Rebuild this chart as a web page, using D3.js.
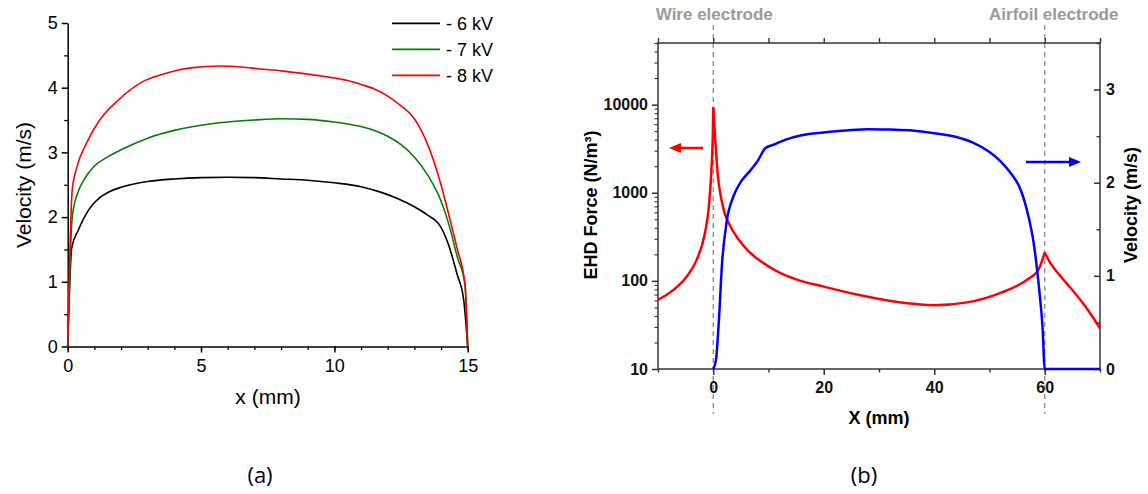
<!DOCTYPE html>
<html><head><meta charset="utf-8">
<script src="https://cdn.jsdelivr.net/npm/d3@7"></script>
<style>body{margin:0;background:#fff}svg{display:block}</style>
</head><body>
<svg id="c" width="1148" height="494"></svg>
<script>
// ---------- Panel (a) data ----------
const xTicksA = [0, 5, 10, 15];
const yTicksA = [0, 1, 2, 3, 4, 5];
const legendLabelsA = ["- 6 kV", "- 7 kV", "- 8 kV"];
const x6kV = [0, 0.15, 0.4, 0.8, 1.2, 1.6, 2, 3, 4, 5, 6, 7, 8, 9, 10, 11, 11.7, 12.3, 13, 13.5, 14, 14.3, 14.6, 14.85, 15];
const v6kV = [0, 1.52, 1.8, 2.12, 2.3, 2.4, 2.46, 2.55, 2.59, 2.61, 2.615, 2.61, 2.59, 2.57, 2.53, 2.47, 2.39, 2.3, 2.16, 2.03, 1.84, 1.55, 1.12, 0.72, 0];
const x7kV = [0, 0.17, 0.4, 0.6, 1, 1.5, 2, 3, 4, 5, 6, 7, 8, 9, 10, 10.5, 11, 11.5, 12, 12.5, 13, 13.5, 14, 14.3, 14.6, 14.9, 15];
const v7kV = [0, 2.0, 2.4, 2.57, 2.79, 2.93, 3.04, 3.22, 3.34, 3.42, 3.47, 3.50, 3.52, 3.51, 3.47, 3.44, 3.40, 3.34, 3.25, 3.12, 2.93, 2.65, 2.25, 1.88, 1.4, 0.95, 0];
const x8kV = [0, 0.17, 0.35, 0.7, 1.2, 1.9, 2.8, 3.5, 4.1, 4.7, 5.7, 6.5, 7.2, 8, 9, 10, 10.5, 11, 11.5, 12, 12.5, 13, 13.5, 14, 14.3, 14.6, 14.9, 15];
const v8kV = [0, 2.42, 2.78, 3.14, 3.5, 3.81, 4.09, 4.2, 4.27, 4.31, 4.335, 4.32, 4.29, 4.26, 4.21, 4.15, 4.11, 4.05, 3.98, 3.87, 3.72, 3.52, 3.12, 2.5, 2.02, 1.52, 0.95, 0];

// ---------- Panel (b) data ----------
const xTicksB = [0, 20, 40, 60];
const xMinorB = [-10, 10, 30, 50, 70];
const forceTicks = [10, 100, 1000, 10000];
const velTicks = [0, 1, 2, 3];
const velMinor = [0.5, 1.5, 2.5, 3.5];
const xForce = [-10, -7.2, -4.8, -3, -1.5, -0.85, -0.36, -0.06, 0, 0.36, 0.78, 1.6, 3.1, 4.5, 6.1, 8, 10, 12, 15, 20, 26, 33, 40, 46, 52, 56.8, 58.9, 60, 61, 62.5, 64, 66, 68, 70];
const force = [61, 79, 112, 173, 350, 645, 1690, 5260, 9300, 4050, 1690, 770, 416, 300, 226, 178, 146, 124, 104, 86, 70, 58, 53, 57, 73, 103, 135, 210, 160, 120, 93, 66, 45, 29];
const xVel = [0, 0.5, 1, 1.6, 2.4, 3.7, 4.9, 6.7, 8, 9.4, 11, 13, 16, 20, 24, 28, 32, 36, 40, 44, 47, 50, 52, 54, 55.6, 57, 58, 59, 59.6, 60, 65, 70];
const vel = [0, 0.1, 0.5, 1.14, 1.57, 1.86, 2.0, 2.13, 2.23, 2.37, 2.41, 2.46, 2.51, 2.54, 2.56, 2.575, 2.57, 2.56, 2.53, 2.49, 2.43, 2.33, 2.23, 2.09, 1.93, 1.65, 1.35, 0.85, 0.45, 0, 0, 0];
const electrodeLabels = ["Wire electrode", "Airfoil electrode"];
const electrodeX = [0, 60];

const svg = d3.select("#c");
svg.append("rect").attr("width", 1148).attr("height", 494).attr("fill", "#fff");
const intFmt = d3.format("d");

// ================= Panel (a) =================
const fA = "'Liberation Sans', Arial, sans-serif";
const xa = d3.scaleLinear().domain([0, 15]).range([67.7, 467.7]);
const ya = d3.scaleLinear().domain([0, 5]).range([346.5, 23]);
const gA = svg.append("g");

function styleAxis(g, col, w) {
  g.selectAll("path.domain").attr("stroke", col).attr("stroke-width", w);
  g.selectAll(".tick line").attr("stroke", col).attr("stroke-width", w);
}
gA.append("g").attr("transform", "translate(0,346.5)")
  .call(d3.axisBottom(xa).tickValues(d3.range(0, 16, 1)).tickSize(3.5).tickFormat("").tickSizeOuter(0))
  .call(g => { g.select(".domain").remove(); styleAxis(g, "#000", 1.3); });
gA.append("g").attr("transform", "translate(67.7,0)")
  .call(d3.axisLeft(ya).tickValues(d3.range(0.5, 5, 1)).tickSize(3.5).tickFormat("").tickSizeOuter(0))
  .call(g => { g.select(".domain").remove(); styleAxis(g, "#000", 1.3); });
const axA_x = gA.append("g").attr("transform", "translate(0,346.5)")
  .call(d3.axisBottom(xa).tickValues(xTicksA).tickSize(6).tickPadding(7).tickSizeOuter(0).tickFormat(intFmt));
styleAxis(axA_x, "#000", 1.5);
axA_x.selectAll("text").attr("font-family", fA).attr("font-size", 18).attr("fill", "#000");
const axA_y = gA.append("g").attr("transform", "translate(67.7,0)")
  .call(d3.axisLeft(ya).tickValues(yTicksA).tickSize(6).tickPadding(4).tickSizeOuter(0).tickFormat(intFmt));
styleAxis(axA_y, "#000", 1.5);
axA_y.selectAll("text").attr("font-family", fA).attr("font-size", 18).attr("fill", "#000");

const seriesA = [
  { x: x6kV, v: v6kV, color: "#000000" },
  { x: x7kV, v: v7kV, color: "#008000" },
  { x: x8kV, v: v8kV, color: "#ff0000" }
];
const lineA = d3.line().x(d => xa(d[0])).y(d => ya(d[1])).curve(d3.curveMonotoneX);
seriesA.forEach(s => {
  gA.append("path").datum(s.x.map((x, i) => [x, s.v[i]]))
    .attr("d", lineA).attr("fill", "none").attr("stroke", s.color).attr("stroke-width", 1.6);
});
legendLabelsA.forEach((lab, i) => {
  const y = 23.3 + i * 26;
  gA.append("line").attr("x1", 392).attr("x2", 440).attr("y1", y).attr("y2", y)
    .attr("stroke", seriesA[i].color).attr("stroke-width", 1.8);
  gA.append("text").attr("x", 446).attr("y", y + 7).text(lab)
    .attr("font-family", fA).attr("font-size", 18).attr("fill", "#000");
});
gA.append("text").attr("x", 268).attr("y", 404).attr("text-anchor", "middle")
  .attr("font-family", fA).attr("font-size", 21).text("x (mm)");
gA.append("text").attr("transform", "translate(31,185) rotate(-90)").attr("text-anchor", "middle")
  .attr("font-family", fA).attr("font-size", 21).text("Velocity (m/s)");
gA.append("text").attr("x", 260).attr("y", 483).attr("text-anchor", "middle")
  .attr("font-family", "'Open Sans', sans-serif").attr("font-size", 22).text("(a)");

// ================= Panel (b) =================
const fB = "'Liberation Sans', Arial, sans-serif";
const L = 658, R = 1100, T = 43, B = 369;
const xb = d3.scaleLinear().domain([-10, 70]).range([L, R]);
const yF = d3.scaleLog().domain([10, 50000]).range([B, T]);
const yV = d3.scaleLinear().domain([0, 3.5]).range([B, T]);
const gB = svg.append("g");
const axCol = "#333";

electrodeX.forEach(ex => {
  gB.append("line").attr("x1", xb(ex)).attr("x2", xb(ex)).attr("y1", 25).attr("y2", 414)
    .attr("stroke", "#8a8a8a").attr("stroke-width", 1.3).attr("stroke-dasharray", "5,4");
});
gB.append("text").attr("x", xb(electrodeX[0]) + 1).attr("y", 20).attr("text-anchor", "middle")
  .attr("font-family", fB).attr("font-weight", "bold").attr("font-size", 17).attr("fill", "#9a9a9a")
  .text(electrodeLabels[0]);
gB.append("text").attr("x", xb(electrodeX[1]) + 9).attr("y", 20).attr("text-anchor", "middle")
  .attr("font-family", fB).attr("font-weight", "bold").attr("font-size", 17).attr("fill", "#9a9a9a")
  .text(electrodeLabels[1]);

gB.append("rect").attr("x", L).attr("y", T).attr("width", R - L).attr("height", B - T)
  .attr("fill", "none").attr("stroke", axCol).attr("stroke-width", 1.5);

function tickOnly(g, w) { g.select(".domain").remove(); g.selectAll(".tick line").attr("stroke", axCol).attr("stroke-width", w); }

gB.append("g").attr("transform", `translate(0,${B})`)
  .call(d3.axisBottom(xb).tickValues(xMinorB).tickSize(3.5).tickFormat(""))
  .call(g => tickOnly(g, 1.4));
const axB_x = gB.append("g").attr("transform", `translate(0,${B})`)
  .call(d3.axisBottom(xb).tickValues(xTicksB).tickSize(6).tickPadding(7).tickFormat(intFmt))
  .call(g => tickOnly(g, 1.5));
axB_x.selectAll("text").attr("font-family", fB).attr("font-weight", "bold").attr("font-size", 16).attr("fill", "#111");
gB.append("g").attr("transform", `translate(0,${T})`)
  .call(d3.axisTop(xb).tickValues(xMinorB.concat(xTicksB)).tickSize(5).tickFormat(""))
  .call(g => tickOnly(g, 1.4));
const minorLog = [];
[10, 100, 1000, 10000].forEach(d => { for (let k = 2; k <= 9; k++) { const v = d * k; if (v <= 50000) minorLog.push(v); } });
gB.append("g").attr("transform", `translate(${L},0)`)
  .call(d3.axisLeft(yF).tickValues(minorLog).tickSize(3.5).tickFormat(""))
  .call(g => tickOnly(g, 1.1));
const axB_l = gB.append("g").attr("transform", `translate(${L},0)`)
  .call(d3.axisLeft(yF).tickValues(forceTicks).tickSize(6).tickPadding(4).tickFormat(intFmt))
  .call(g => tickOnly(g, 1.5));
axB_l.selectAll("text").attr("font-family", fB).attr("font-weight", "bold").attr("font-size", 16).attr("fill", "#111");
gB.append("g").attr("transform", `translate(${R},0)`)
  .call(d3.axisRight(yV).tickValues(velMinor).tickSizeInner(-3.5).tickSizeOuter(0).tickFormat(""))
  .call(g => tickOnly(g, 1.4));
const axB_r = gB.append("g").attr("transform", `translate(${R},0)`)
  .call(d3.axisRight(yV).tickValues(velTicks).tickSizeInner(-6).tickSizeOuter(0).tickPadding(6).tickFormat(intFmt))
  .call(g => tickOnly(g, 1.5));
axB_r.selectAll("text").attr("font-family", fB).attr("font-weight", "bold").attr("font-size", 16).attr("fill", "#111");

// Force curve: split at the two peaks so the cusps stay sharp
const forcePts = xForce.map((x, i) => [x, force[i]]);
const i0 = xForce.indexOf(0), i60 = xForce.indexOf(60);
const forceSegs = [forcePts.slice(0, i0 + 1), forcePts.slice(i0, i60 + 1), forcePts.slice(i60)];
const lineF = d3.line().x(d => xb(d[0])).y(d => yF(d[1])).curve(d3.curveMonotoneX);
const lineV = d3.line().x(d => xb(d[0])).y(d => yV(d[1])).curve(d3.curveMonotoneX);
forceSegs.forEach(seg => {
  gB.append("path").datum(seg).attr("d", lineF)
    .attr("fill", "none").attr("stroke", "#ff0000").attr("stroke-width", 2.5).attr("stroke-linejoin", "round");
});
gB.append("path").datum(xVel.map((x, i) => [x, vel[i]])).attr("d", lineV)
  .attr("fill", "none").attr("stroke", "#0000ff").attr("stroke-width", 2.5);

function arrow(x1, x2, y, col) {
  const dir = Math.sign(x2 - x1);
  gB.append("line").attr("x1", x1).attr("x2", x2 - dir * 8).attr("y1", y).attr("y2", y)
    .attr("stroke", col).attr("stroke-width", 2.5);
  gB.append("path").attr("d", `M${x2},${y} L${x2 - dir * 12},${y - 5} L${x2 - dir * 12},${y + 5} Z`).attr("fill", col);
}
arrow(703, 669, 148, "#ff0000");
arrow(1026, 1081, 162, "#0000ff");

gB.append("text").attr("x", 879).attr("y", 424).attr("text-anchor", "middle")
  .attr("font-family", fB).attr("font-weight", "bold").attr("font-size", 18).text("X (mm)");
gB.append("text").attr("transform", "translate(597,205) rotate(-90)").attr("text-anchor", "middle")
  .attr("font-family", fB).attr("font-weight", "bold").attr("font-size", 18).text("EHD Force (N/m³)");
gB.append("text").attr("transform", "translate(1137,205) rotate(-90)").attr("text-anchor", "middle")
  .attr("font-family", fB).attr("font-weight", "bold").attr("font-size", 18).text("Velocity (m/s)");
gB.append("text").attr("x", 864).attr("y", 483).attr("text-anchor", "middle")
  .attr("font-family", "'Open Sans', sans-serif").attr("font-size", 22).text("(b)");
</script>
</body></html>
